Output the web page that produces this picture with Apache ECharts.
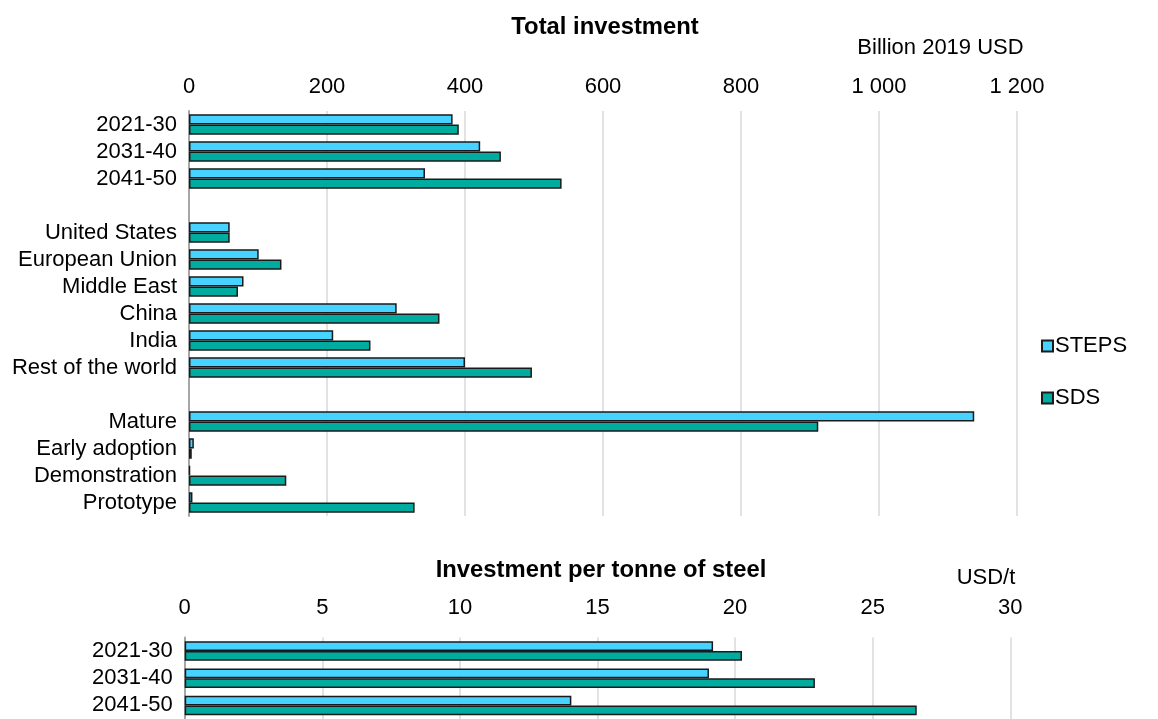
<!DOCTYPE html>
<html>
<head>
<meta charset="utf-8">
<script src="https://cdn.jsdelivr.net/npm/echarts@6/dist/echarts.min.js"></script>
<style>
html,body{margin:0;padding:0;background:#fff;}
#chart{width:1158px;height:719px;}
</style>
</head>
<body>
<div id="chart"></div>
<script>
// ---- data ----
const topCategories = ['2021-30','2031-40','2041-50',' ','United States','European Union','Middle East','China','India','Rest of the world','  ','Mature','Early adoption','Demonstration','Prototype'];
const topSTEPS = [382,422,342,null,59,101,79,301,209,400,null,1138,7,1.5,5];
const topSDS   = [391,452,540,null,59,134,71,363,263,497,null,912,4,141,327];
const topTicks = [0,200,400,600,800,1000,1200];

const bottomCategories = ['2021-30','2031-40','2041-50'];
const bottomSTEPS = [19.2,19.05,14.05];
const bottomSDS   = [20.25,22.9,26.6];
const bottomTicks = [0,5,10,15,20,25,30];

const titles = ['Total investment','Investment per tonne of steel'];
const units = ['Billion 2019 USD','USD/t'];
const seriesNames = ['STEPS','SDS'];

// ---- style ----
const FONT = 'Liberation Sans, Arial, sans-serif';
const FS = 22;
const TFS = 23.8;
const C_STEPS = '#47D3FF';
const C_SDS = '#00ACA0';
const BORDER = '#1a1a1a';

const fmtThousands = v => String(v).replace(/\B(?=(\d{3})+(?!\d))/g, ' ');

const chart = echarts.init(document.getElementById('chart'));
const xCommon = {
  type: 'value', position: 'top', min: 0,
  axisLine: {show: false}, axisTick: {show: false},
  splitLine: {show: true, lineStyle: {color: '#d9d9d9', width: 1.5}},
  axisLabel: {color: '#000', fontFamily: FONT, fontSize: FS}
};
const yCommon = {
  type: 'category', inverse: true,
  axisLine: {show: true, lineStyle: {color: '#a6a6a6', width: 2}},
  axisTick: {show: false},
  axisLabel: {color: '#000', fontFamily: FONT, fontSize: FS, margin: 12, interval: 0}
};
const barStyle = (c) => ({color: c, borderColor: BORDER, borderWidth: 1.5});

chart.setOption({
  animation: false,
  backgroundColor: '#fff',
  textStyle: {fontFamily: FONT},
  grid: [
    {left: 189, right: 141, top: 111, bottom: 203},
    {left: 184.7, right: 147.7, top: 637.5, bottom: -3.5}
  ],
  xAxis: [
    Object.assign({}, xCommon, {gridIndex: 0, max: topTicks[topTicks.length-1], interval: topTicks[1]-topTicks[0],
      axisLabel: Object.assign({}, xCommon.axisLabel, {margin: 13, formatter: fmtThousands})}),
    Object.assign({}, xCommon, {gridIndex: 1, max: bottomTicks[bottomTicks.length-1], interval: bottomTicks[1]-bottomTicks[0],
      axisLabel: Object.assign({}, xCommon.axisLabel, {margin: 18.5})})
  ],
  yAxis: [
    Object.assign({}, yCommon, {gridIndex: 0, data: topCategories}),
    Object.assign({}, yCommon, {gridIndex: 1, data: bottomCategories})
  ],
  legend: {
    orient: 'vertical', left: 1036, top: 330,
    itemWidth: 11, itemHeight: 11, itemGap: 30,
    icon: 'rect',
    textStyle: {color: '#000', fontFamily: FONT, fontSize: FS, padding: [0,0,0,-3]},
    data: seriesNames
  },
  graphic: [
    {type: 'text', x: 605, y: 27, style: {text: titles[0], font: 'bold ' + TFS + 'px ' + FONT, fill: '#000', align: 'center', verticalAlign: 'middle'}},
    {type: 'text', x: 940.5, y: 48, style: {text: units[0], font: FS + 'px ' + FONT, fill: '#000', align: 'center', verticalAlign: 'middle'}},
    {type: 'text', x: 601, y: 570, style: {text: titles[1], font: 'bold ' + TFS + 'px ' + FONT, fill: '#000', align: 'center', verticalAlign: 'middle'}},
    {type: 'text', x: 986, y: 578, style: {text: units[1], font: FS + 'px ' + FONT, fill: '#000', align: 'center', verticalAlign: 'middle'}}
  ],
  series: [
    {name: seriesNames[0], type: 'bar', xAxisIndex: 0, yAxisIndex: 0, data: topSTEPS, barGap: '0%', barCategoryGap: '24%', itemStyle: barStyle(C_STEPS)},
    {name: seriesNames[1], type: 'bar', xAxisIndex: 0, yAxisIndex: 0, data: topSDS, barGap: '0%', barCategoryGap: '24%', itemStyle: barStyle(C_SDS)},
    {name: seriesNames[0], type: 'bar', xAxisIndex: 1, yAxisIndex: 1, data: bottomSTEPS, barGap: '0%', barCategoryGap: '28%', itemStyle: barStyle(C_STEPS)},
    {name: seriesNames[1], type: 'bar', xAxisIndex: 1, yAxisIndex: 1, data: bottomSDS, barGap: '0%', barCategoryGap: '28%', itemStyle: barStyle(C_SDS)}
  ]
});
</script>
</body>
</html>
